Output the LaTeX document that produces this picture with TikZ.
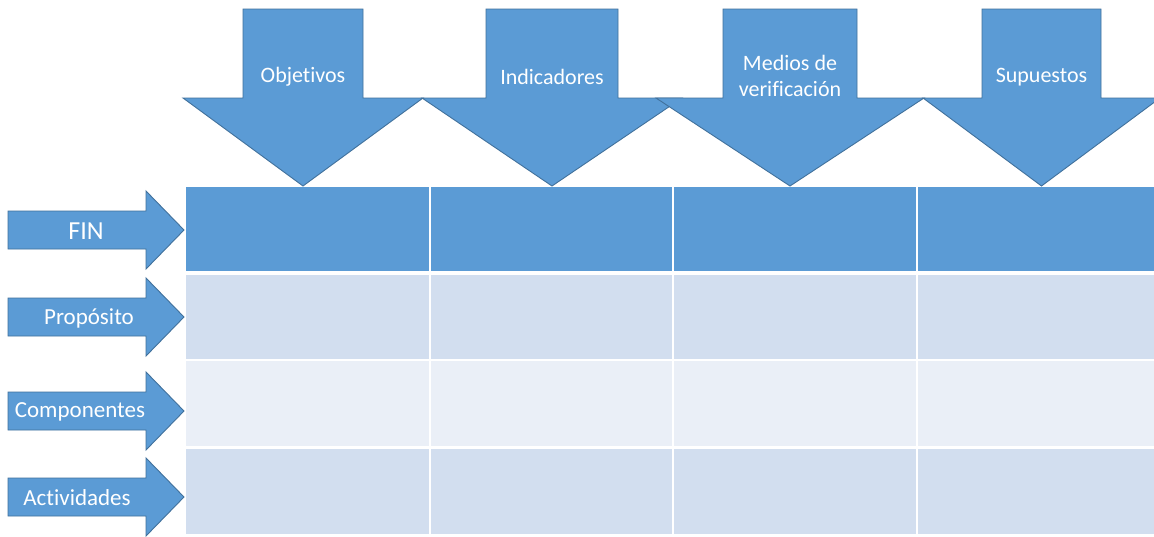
\documentclass[tikz,border=0pt]{standalone}
\usepackage{fontspec}
\setmainfont{Carlito}[Ligatures=NoCommon]
\definecolor{accent}{HTML}{5B9BD5}
\definecolor{accentline}{HTML}{41719C}
\definecolor{rowa}{HTML}{D2DEEF}
\definecolor{rowb}{HTML}{EAEFF7}
\tikzset{
  bigarrow/.style={fill=accent, draw=accentline, line width=0.9pt, line join=miter},
  label/.style={text=white, font=\fontsize{22}{26.5}\selectfont, align=center, inner sep=0pt},
  sidelabel/.style={text=white, font=\fontsize{23}{27}\selectfont, inner sep=0pt},
  biglabel/.style={text=white, font=\fontsize{26}{30}\selectfont, inner sep=0pt},
}
\begin{document}
\begin{tikzpicture}[x=1pt,y=-1pt]
\clip (0,0) rectangle (1154,536);
\fill[white] (0,0) rectangle (1154,536);
% table
\foreach \ya/\yb/\col in {187/271/accent, 275/359/rowa, 361/446/rowb, 449/534/rowa}{
  \foreach \xa/\xb in {186/429, 431/672, 674/916, 918/1154}{
    \fill[\col] (\xa,\ya) rectangle (\xb,\yb);
  }
}
% top arrows
\newcommand{\downarrowshape}[5]{% shaft left, shaft right, head left, head right, center
  \draw[bigarrow] (#1,9) -- (#2,9) -- (#2,98) -- (#4,98) -- (#5,186) -- (#3,98) -- (#1,98) -- cycle;}
\downarrowshape{243}{363}{183}{423}{303}
\downarrowshape{486}{618}{422}{682}{552}
\downarrowshape{723}{857}{656}{924}{790}
\downarrowshape{982}{1101}{923}{1160}{1041.5}
\node[label] (obj) at (303,77) {Objetivos};
\node[label] (ind) at (552,77) {Indicadores};
\node[label] (med) at (790,76) {Medios de\\verificación};
\node[label] (sup) at (1041.5,77) {Supuestos};
% left arrows
\newcommand{\rightarrowshape}[1]{%
  \draw[bigarrow] (8,#1-19) -- (146,#1-19) -- (146,#1-39) -- (184,#1) -- (146,#1+39) -- (146,#1+19) -- (8,#1+19) -- cycle;}
\rightarrowshape{230}
\rightarrowshape{317}
\rightarrowshape{411}
\rightarrowshape{497}
\node[biglabel] (fin) at (86,231) {FIN};
\node[sidelabel] (pro) at (89,318) {Propósito};
\node[sidelabel] (com) at (80,412) {Componentes};
\node[sidelabel] (act) at (77,498) {Actividades};
\end{tikzpicture}
\end{document}
